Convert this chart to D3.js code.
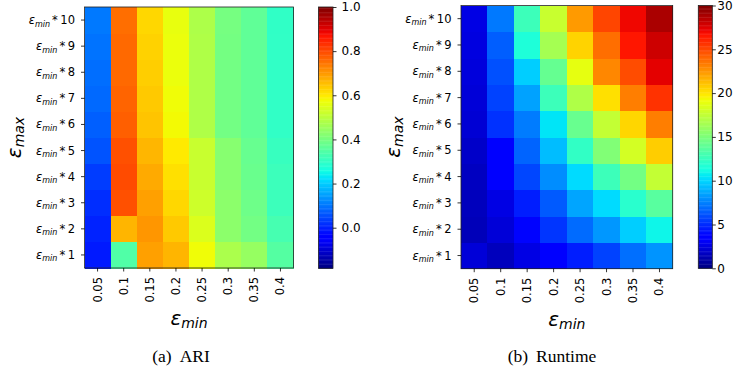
<!DOCTYPE html>
<html>
<head>
<meta charset="utf-8">
<script src="https://cdn.jsdelivr.net/npm/d3@7/dist/d3.min.js"></script>
<style>
  html, body { margin: 0; padding: 0; background: #ffffff; }
  svg { display: block; }
  text { font-family: "DejaVu Sans", sans-serif; fill: #000; }
</style>
</head>
<body>
<svg id="chart" width="735" height="373"></svg>
<script>
// ---------- data ----------
const epsMinLabels = ["0.05", "0.1", "0.15", "0.2", "0.25", "0.3", "0.35", "0.4"];
const epsMaxMultipliers = ["1", "2", "3", "4", "5", "6", "7", "8", "9", "10"];

// ARI: rows = eps_min*1 .. eps_min*10, columns = eps_min values
const ariValues = [
  [-0.007, 0.345, 0.693, 0.667, 0.576, 0.476, 0.446, 0.352],
  [0.004, 0.667, 0.705, 0.642, 0.546, 0.432, 0.396, 0.331],
  [0.016, 0.793, 0.693, 0.624, 0.525, 0.432, 0.389, 0.317],
  [0.034, 0.800, 0.680, 0.612, 0.518, 0.425, 0.382, 0.317],
  [0.060, 0.793, 0.665, 0.600, 0.518, 0.425, 0.378, 0.310],
  [0.074, 0.774, 0.648, 0.580, 0.483, 0.396, 0.368, 0.301],
  [0.086, 0.768, 0.642, 0.576, 0.483, 0.396, 0.368, 0.301],
  [0.092, 0.762, 0.635, 0.569, 0.483, 0.396, 0.368, 0.301],
  [0.098, 0.762, 0.630, 0.569, 0.483, 0.398, 0.368, 0.301],
  [0.104, 0.756, 0.624, 0.565, 0.480, 0.400, 0.368, 0.300]
];

// Runtime
const runtimeValues = [
  [2.3, 1.6, 2.6, 3.3, 4.6, 5.7, 7.0, 8.1],
  [1.5, 2.3, 3.8, 5.3, 6.9, 8.2, 9.8, 11.0],
  [1.6, 2.6, 4.6, 6.4, 8.6, 10.2, 12.0, 13.7],
  [1.7, 3.5, 5.8, 7.9, 10.2, 12.7, 14.7, 17.6],
  [1.9, 3.6, 6.7, 9.3, 12.3, 15.2, 18.2, 20.8],
  [2.2, 5.2, 7.4, 10.5, 14.3, 17.6, 20.5, 23.3],
  [2.3, 5.7, 8.5, 12.7, 16.9, 20.2, 23.3, 25.7],
  [2.4, 6.1, 9.8, 14.2, 18.9, 23.0, 24.9, 27.4],
  [2.5, 6.5, 11.6, 16.5, 20.6, 23.8, 26.6, 28.0],
  [2.6, 7.3, 12.7, 17.8, 22.4, 25.1, 27.1, 28.9]
];

const ariTicks = [0.0, 0.2, 0.4, 0.6, 0.8, 1.0];
const ariDomain = [-0.184, 1.0];
const runtimeTicks = [0, 5, 10, 15, 20, 25, 30];
const runtimeDomain = [0, 30];

const captions = [["(a)", "ARI"], ["(b)", "Runtime"]];

// ---------- jet colormap (matplotlib) ----------
const jr = d3.scaleLinear().domain([0, 0.35, 0.66, 0.89, 1]).range([0, 0, 1, 1, 0.5]).clamp(true);
const jg = d3.scaleLinear().domain([0, 0.125, 0.375, 0.64, 0.91, 1]).range([0, 0, 1, 1, 0, 0]).clamp(true);
const jb = d3.scaleLinear().domain([0, 0.11, 0.34, 0.65, 1]).range([0.5, 1, 1, 0, 0]).clamp(true);
function jet(t) {
  return d3.rgb(Math.round(jr(t) * 255), Math.round(jg(t) * 255), Math.round(jb(t) * 255)).toString();
}

const svg = d3.select("#chart");

function epsLabel(sel, mainSize, subSize, subShift, sub, suffix) {
  sel.append("tspan").attr("font-style", "italic").attr("font-size", mainSize).text("\u03b5");
  sel.append("tspan").attr("font-style", "italic").attr("font-size", subSize).attr("dy", subShift).text(sub);
  if (suffix !== undefined) {
    sel.append("tspan").attr("font-size", mainSize).attr("dy", -subShift).attr("dx", 2).text("*");
    sel.append("tspan").attr("font-size", mainSize).attr("dx", 2.5).text(suffix);
  }
}

function panel(cfg) {
  const g = svg.append("g");
  const x = d3.scaleBand().domain(epsMinLabels).range([cfg.left, cfg.right]);
  const y = d3.scaleBand().domain(epsMaxMultipliers.slice().reverse()).range([cfg.top, cfg.bottom]);
  const cnorm = d3.scaleLinear().domain(cfg.domain).range([0, 1]);

  const cells = [];
  cfg.values.forEach((row, ri) => row.forEach((v, ci) => cells.push({ r: epsMaxMultipliers[ri], c: epsMinLabels[ci], v })));
  g.append("g").attr("shape-rendering", "crispEdges").selectAll("rect").data(cells).join("rect")
    .attr("x", d => x(d.c))
    .attr("y", d => y(d.r))
    .attr("width", x.bandwidth() + 0.5)
    .attr("height", y.bandwidth() + 0.5)
    .attr("fill", d => jet(cnorm(d.v)));

  // frame
  g.append("rect").attr("x", cfg.left).attr("y", cfg.top)
    .attr("width", cfg.right - cfg.left).attr("height", cfg.bottom - cfg.top)
    .attr("fill", "none").attr("stroke", "#222").attr("stroke-width", 0.8);

  // x axis
  const xa = g.append("g").attr("transform", `translate(0,${cfg.bottom})`)
    .call(d3.axisBottom(x).tickSize(3.5).tickSizeOuter(0).tickFormat(""));
  xa.select(".domain").remove();
  xa.selectAll("line").attr("stroke", "#000").attr("stroke-width", 0.8);
  g.selectAll(".xl").data(epsMinLabels).join("text")
    .attr("class", "xl")
    .attr("transform", d => `translate(${x(d) + x.bandwidth() / 2},${cfg.bottom + 9}) rotate(-90)`)
    .attr("text-anchor", "end")
    .attr("dominant-baseline", "central")
    .attr("font-size", 11.5)
    .text(d => d);

  // y axis
  const ya = g.append("g").attr("transform", `translate(${cfg.left},0)`)
    .call(d3.axisLeft(y).tickSize(3.5).tickSizeOuter(0).tickFormat(""));
  ya.select(".domain").remove();
  ya.selectAll("line").attr("stroke", "#000").attr("stroke-width", 0.8);
  g.selectAll(".yl").data(epsMaxMultipliers).join("text")
    .attr("class", "yl")
    .attr("x", cfg.left - 9.5)
    .attr("y", d => y(d) + y.bandwidth() / 2 + 4)
    .attr("text-anchor", "end")
    .each(function (d) { epsLabel(d3.select(this), 11.5, 8, 2.5, "min", d); });

  // axis titles
  const xt = g.append("text").attr("x", (cfg.left + cfg.right) / 2).attr("y", cfg.bottom + 57)
    .attr("text-anchor", "middle");
  epsLabel(xt, 20, 14, 3, "min");
  const yt = g.append("text")
    .attr("transform", `translate(${cfg.ylabX},${(cfg.top + cfg.bottom) / 2}) rotate(-90)`)
    .attr("text-anchor", "middle");
  epsLabel(yt, 20, 14, 3, "max");

  // colorbar
  const cy = d3.scaleLinear().domain(cfg.domain).range([cfg.cbBottom, cfg.cbTop]);
  const steps = d3.range(0, 200);
  const h = (cfg.cbBottom - cfg.cbTop) / steps.length;
  g.append("g").selectAll("rect").data(steps).join("rect")
    .attr("x", cfg.cbLeft).attr("width", cfg.cbRight - cfg.cbLeft)
    .attr("y", i => cfg.cbBottom - (i + 1) * h).attr("height", h + 0.4)
    .attr("fill", i => jet((i + 0.5) / steps.length));
  g.append("rect").attr("x", cfg.cbLeft).attr("y", cfg.cbTop)
    .attr("width", cfg.cbRight - cfg.cbLeft).attr("height", cfg.cbBottom - cfg.cbTop)
    .attr("fill", "none").attr("stroke", "#222").attr("stroke-width", 0.8);
  const ca = g.append("g").attr("transform", `translate(${cfg.cbRight},0)`)
    .call(d3.axisRight(cy).tickValues(cfg.ticks).tickSize(3.5).tickFormat(cfg.fmt));
  ca.select(".domain").remove();
  ca.selectAll("line").attr("stroke", "#000").attr("stroke-width", 0.8);
  ca.selectAll("text").attr("x", cfg.cbLabelGap).attr("font-size", 12)
    .attr("font-family", "DejaVu Sans, sans-serif").attr("fill", "#000");

  // caption
  const cap = g.append("text").attr("x", cfg.capX).attr("y", 362)
    .attr("text-anchor", "middle")
    .style("font-family", "'Liberation Serif', serif").attr("font-size", 17.5);
  cap.append("tspan").text(cfg.caption[0]);
  cap.append("tspan").attr("dx", 8).text(cfg.caption[1]);
}

panel({
  left: 84.5, right: 293.5, top: 7, bottom: 268,
  values: ariValues, domain: ariDomain, ticks: ariTicks, fmt: d3.format(".1f"),
  cbLeft: 318.5, cbRight: 333, cbTop: 7, cbBottom: 268.3, cbLabelGap: 8.5,
  ylabX: 21, capX: 181, caption: captions[0]
});
panel({
  left: 461, right: 672.7, top: 5.5, bottom: 268.7,
  values: runtimeValues, domain: runtimeDomain, ticks: runtimeTicks, fmt: d3.format("d"),
  cbLeft: 698.3, cbRight: 712.3, cbTop: 5.5, cbBottom: 268.3, cbLabelGap: 5,
  ylabX: 400, capX: 552, caption: captions[1]
});
</script>
</body>
</html>
